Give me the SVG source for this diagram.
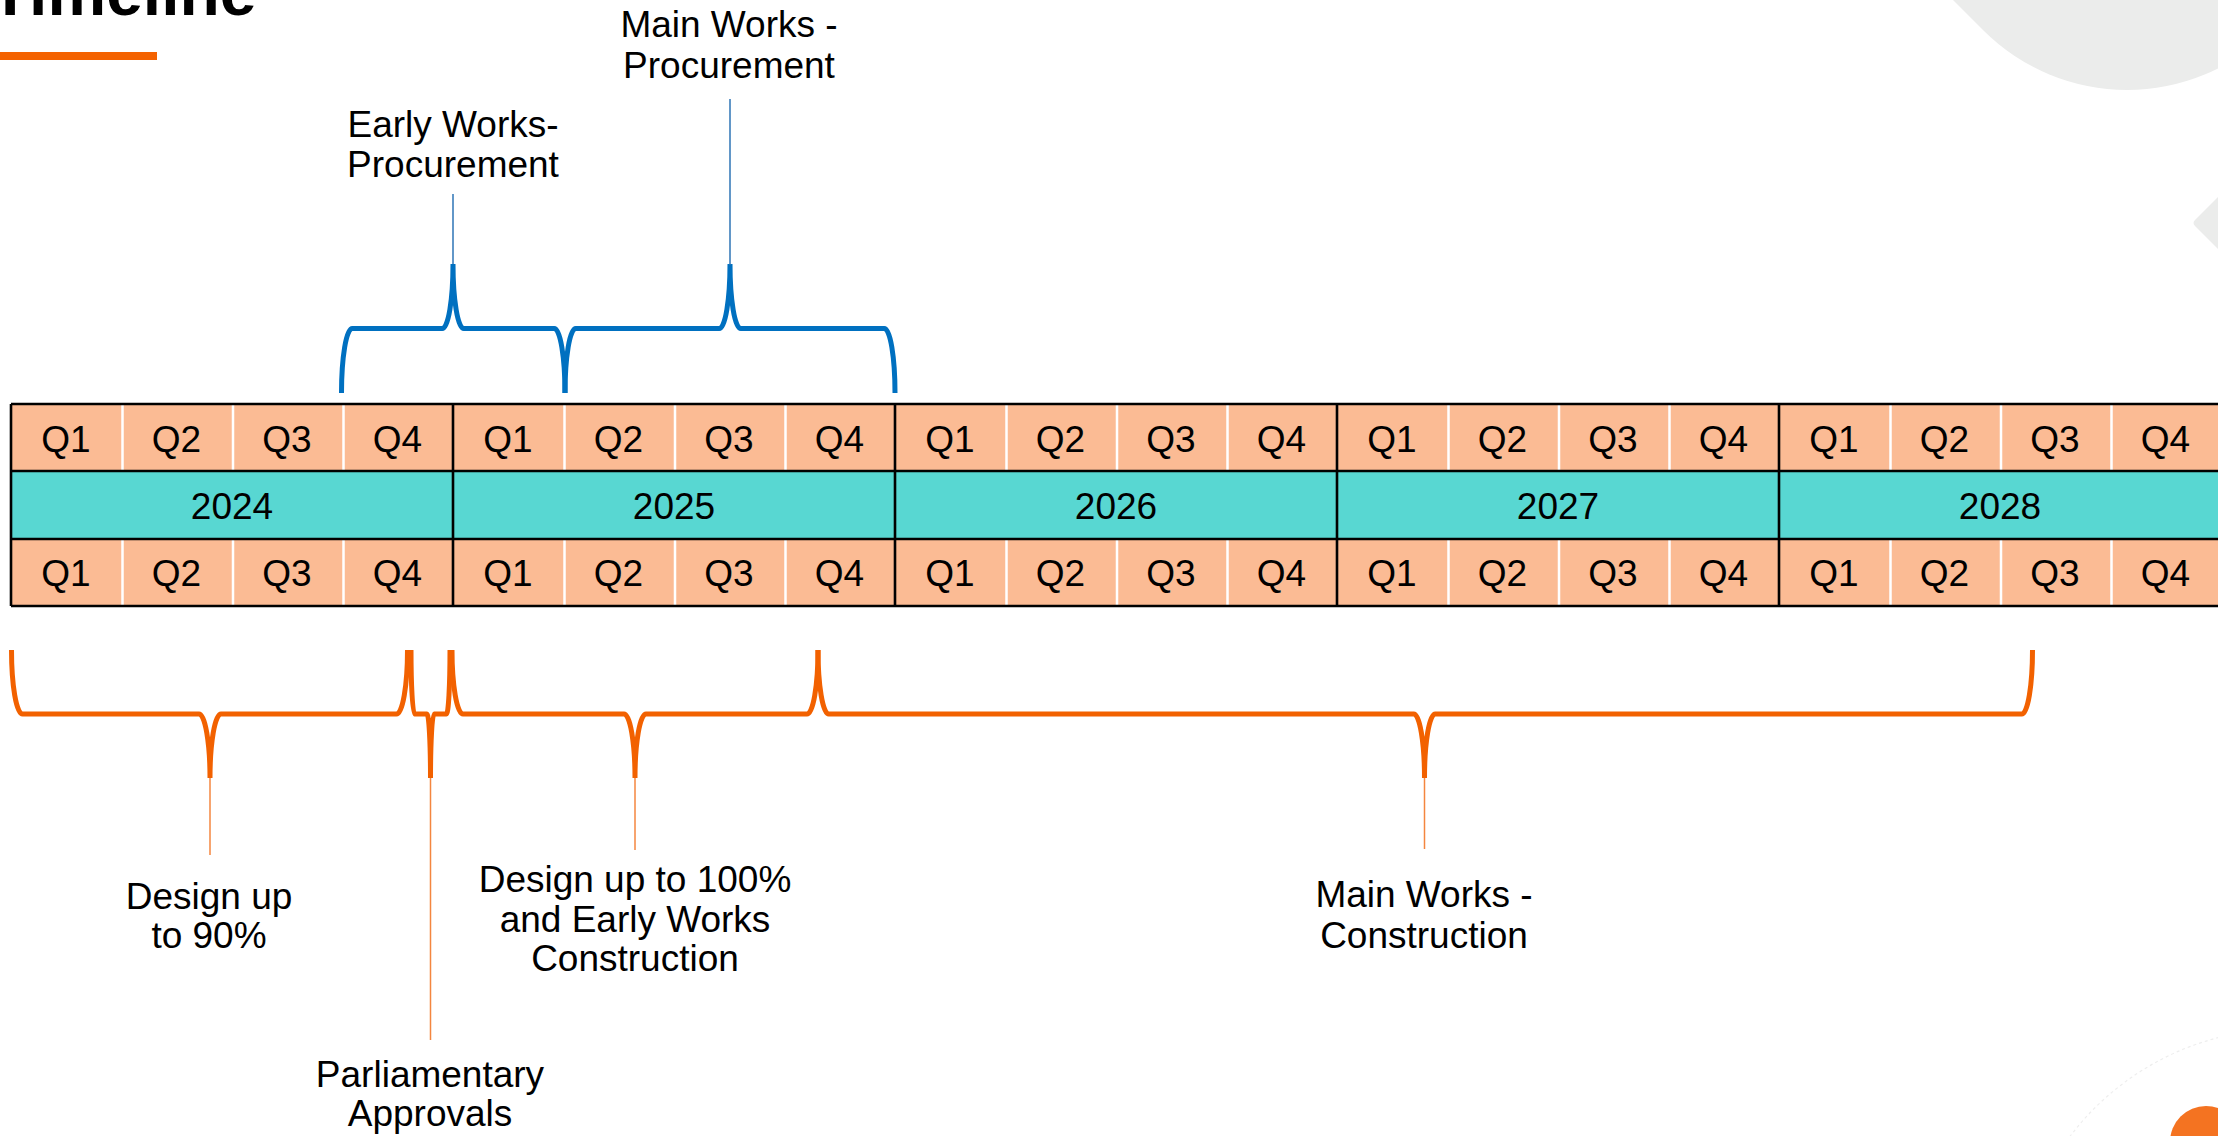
<svg xmlns="http://www.w3.org/2000/svg" width="2218" height="1136" viewBox="0 0 2218 1136">
  <style>
    .t { font-family: "Liberation Sans", Arial, sans-serif; font-size: 37px; fill: #000; text-anchor: middle; }
    .title { font-family: "Liberation Sans", Arial, sans-serif; font-size: 66px; font-weight: bold; fill: #000; }
    .q { fill: #FBBB94; }
    .y { fill: #58D7D2; }
    .sep { stroke: #FFFFFF; stroke-width: 2.5; }
    .grid { stroke: #000; stroke-width: 2.6; fill: none; }
    .bb { fill: none; stroke: #0070C0; stroke-width: 5; }
    .ob { fill: none; stroke: #F26100; stroke-width: 5; }
    .bl { stroke: #2E75B6; stroke-width: 1.5; }
    .ol { stroke: #F4863F; stroke-width: 1.5; }
  </style>

  <g id="background">
    <path d="M 1953,0 L 1983.5,30.5 A 203 203 0 0 0 2270.5,30.5 L 2301,0 Z" fill="#EBECEB"/>
    <path d="M 2218,197 L 2195,220 Q 2192,223 2195,226 L 2218,249 Z" fill="#EBECEB"/>
    <circle cx="2286" cy="1300" r="271" fill="none" stroke="#EEEEEE" stroke-width="1.2" stroke-dasharray="3 3"/>
    <circle cx="2206" cy="1142" r="36" fill="#F47321"/>
  </g>

  <g id="title">
    <text class="title" x="-10" y="15">Timeline</text>
    <rect x="0" y="52" width="157" height="8" fill="#F46200"/>
  </g>

  <g id="timeline-table">
    <rect class="q" x="11" y="404" width="2210" height="67"/>
    <rect class="y" x="11" y="471" width="2210" height="68"/>
    <rect class="q" x="11" y="539" width="2210" height="67"/>
    <g id="separators">
      <path class="sep" d="M122.5,404V471M233,404V471M343.5,404V471M564.5,404V471M675,404V471M785.5,404V471M1006.5,404V471M1117,404V471M1227.5,404V471M1448.5,404V471M1559,404V471M1669.5,404V471M1890.5,404V471M2001,404V471M2111.5,404V471"/>
      <path class="sep" d="M122.5,539V606M233,539V606M343.5,539V606M564.5,539V606M675,539V606M785.5,539V606M1006.5,539V606M1117,539V606M1227.5,539V606M1448.5,539V606M1559,539V606M1669.5,539V606M1890.5,539V606M2001,539V606M2111.5,539V606"/>
    </g>
    <path class="grid" d="M11,404H2218M11,471H2218M11,539H2218M11,606H2218M11,404V606M453,404V606M895,404V606M1337,404V606M1779,404V606"/>

    <g id="year-2024">
      <text class="t" x="66" y="452">Q1</text><text class="t" x="176.5" y="452">Q2</text><text class="t" x="287" y="452">Q3</text><text class="t" x="397.5" y="452">Q4</text>
      <text class="t" x="232" y="519">2024</text>
      <text class="t" x="66" y="586">Q1</text><text class="t" x="176.5" y="586">Q2</text><text class="t" x="287" y="586">Q3</text><text class="t" x="397.5" y="586">Q4</text>
    </g>
    <g id="year-2025">
      <text class="t" x="508" y="452">Q1</text><text class="t" x="618.5" y="452">Q2</text><text class="t" x="729" y="452">Q3</text><text class="t" x="839.5" y="452">Q4</text>
      <text class="t" x="674" y="519">2025</text>
      <text class="t" x="508" y="586">Q1</text><text class="t" x="618.5" y="586">Q2</text><text class="t" x="729" y="586">Q3</text><text class="t" x="839.5" y="586">Q4</text>
    </g>
    <g id="year-2026">
      <text class="t" x="950" y="452">Q1</text><text class="t" x="1060.5" y="452">Q2</text><text class="t" x="1171" y="452">Q3</text><text class="t" x="1281.5" y="452">Q4</text>
      <text class="t" x="1116" y="519">2026</text>
      <text class="t" x="950" y="586">Q1</text><text class="t" x="1060.5" y="586">Q2</text><text class="t" x="1171" y="586">Q3</text><text class="t" x="1281.5" y="586">Q4</text>
    </g>
    <g id="year-2027">
      <text class="t" x="1392" y="452">Q1</text><text class="t" x="1502.5" y="452">Q2</text><text class="t" x="1613" y="452">Q3</text><text class="t" x="1723.5" y="452">Q4</text>
      <text class="t" x="1558" y="519">2027</text>
      <text class="t" x="1392" y="586">Q1</text><text class="t" x="1502.5" y="586">Q2</text><text class="t" x="1613" y="586">Q3</text><text class="t" x="1723.5" y="586">Q4</text>
    </g>
    <g id="year-2028">
      <text class="t" x="1834" y="452">Q1</text><text class="t" x="1944.5" y="452">Q2</text><text class="t" x="2055" y="452">Q3</text><text class="t" x="2165.5" y="452">Q4</text>
      <text class="t" x="2000" y="519">2028</text>
      <text class="t" x="1834" y="586">Q1</text><text class="t" x="1944.5" y="586">Q2</text><text class="t" x="2055" y="586">Q3</text><text class="t" x="2165.5" y="586">Q4</text>
    </g>
  </g>

  <g id="connectors">
    <path id="brace-early-proc" class="bb" d="M 341.5,393 A 10.7,64.5 0 0 1 352.2,328.5 L 442.3,328.5 A 10.7,64.5 0 0 0 453,264 A 10.7,64.5 0 0 0 463.7,328.5 L 554.3,328.5 A 10.7,64.5 0 0 1 565,393"/>
    <path id="brace-main-proc" class="bb" d="M 565,393 A 10.7,64.5 0 0 1 575.7,328.5 L 719.3,328.5 A 10.7,64.5 0 0 0 730,264 A 10.7,64.5 0 0 0 740.7,328.5 L 884.3,328.5 A 10.7,64.5 0 0 1 895,393"/>
    <line class="bl" x1="453" y1="194" x2="453" y2="264"/>
    <line class="bl" x1="730" y1="99" x2="730" y2="265"/>

    <path id="brace-design90" class="ob" d="M 11.5,650 A 11,64 0 0 0 22.5,714 L 199,714 A 11,64 0 0 1 210,778 A 11,64 0 0 1 221,714 L 396.5,714 A 11,64 0 0 0 407.5,650"/>
    <path id="brace-parl" class="ob" d="M 411,650 A 3.5,64 0 0 0 414.5,714 L 427,714 A 3.5,64 0 0 1 430.5,778 A 3.5,64 0 0 1 434,714 L 446.5,714 A 3.5,64 0 0 0 450,650"/>
    <path id="brace-design100" class="ob" d="M 452,650 A 11,64 0 0 0 463,714 L 624,714 A 11,64 0 0 1 635,778 A 11,64 0 0 1 646,714 L 807,714 A 11,64 0 0 0 818,650"/>
    <path id="brace-main-constr" class="ob" d="M 818,650 A 10.7,64 0 0 0 828.7,714 L 1413.8,714 A 10.7,64 0 0 1 1424.5,778 A 10.7,64 0 0 1 1435.2,714 L 2021.8,714 A 10.7,64 0 0 0 2032.5,650"/>
    <line class="ol" x1="210" y1="778" x2="210" y2="855"/>
    <line class="ol" x1="430.5" y1="778" x2="430.5" y2="1040"/>
    <line class="ol" x1="635" y1="778" x2="635" y2="850"/>
    <line class="ol" x1="1424.5" y1="778" x2="1424.5" y2="849"/>
  </g>

  <g id="label-main-procurement">
    <text class="t" x="729" y="37">Main Works -</text>
    <text class="t" x="729" y="78">Procurement</text>
  </g>
  <g id="label-early-procurement">
    <text class="t" x="453" y="137">Early Works-</text>
    <text class="t" x="453" y="177">Procurement</text>
  </g>
  <g id="label-design90">
    <text class="t" x="209" y="909">Design up</text>
    <text class="t" x="209" y="948">to 90%</text>
  </g>
  <g id="label-parliamentary">
    <text class="t" x="430" y="1087">Parliamentary</text>
    <text class="t" x="430" y="1126">Approvals</text>
  </g>
  <g id="label-design100">
    <text class="t" x="635" y="892">Design up to 100%</text>
    <text class="t" x="635" y="932">and Early Works</text>
    <text class="t" x="635" y="971">Construction</text>
  </g>
  <g id="label-main-construction">
    <text class="t" x="1424" y="907">Main Works -</text>
    <text class="t" x="1424" y="948">Construction</text>
  </g>
</svg>
